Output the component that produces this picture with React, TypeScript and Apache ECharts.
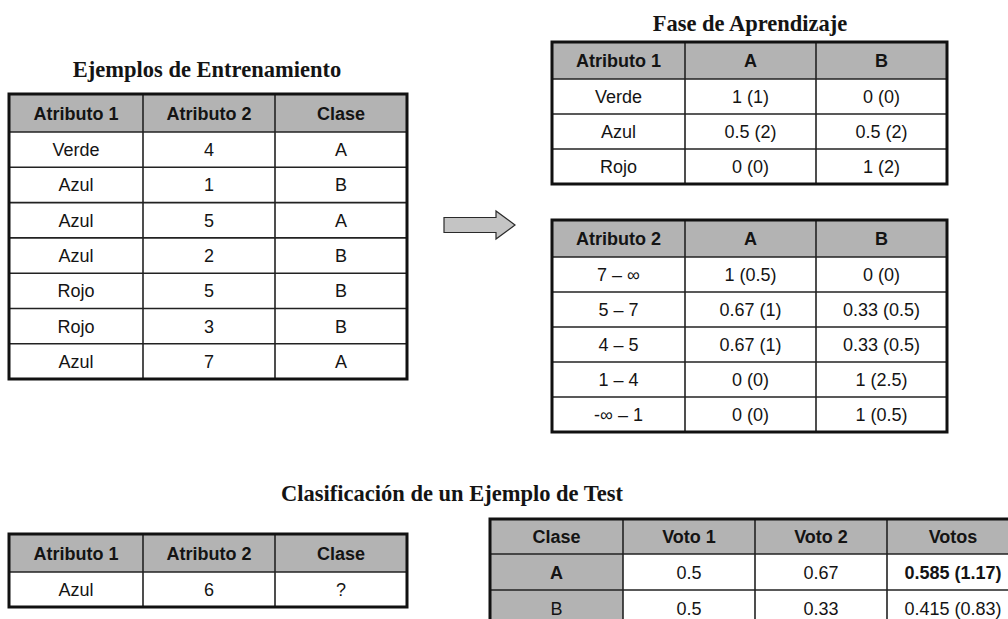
import React, { useEffect, useRef } from "react";
import * as echarts from "echarts";

// ---------- Data ----------
const trainTitle = "Ejemplos de Entrenamiento";
const trainHeader = ["Atributo 1", "Atributo 2", "Clase"];
const trainAttr1 = ["Verde", "Azul", "Azul", "Azul", "Rojo", "Rojo", "Azul"];
const trainAttr2 = ["4", "1", "5", "2", "5", "3", "7"];
const trainClass = ["A", "B", "A", "B", "B", "B", "A"];

const learnTitle = "Fase de Aprendizaje";
const attr1Header = ["Atributo 1", "A", "B"];
const attr1Values = ["Verde", "Azul", "Rojo"];
const attr1ProbA = ["1 (1)", "0.5 (2)", "0 (0)"];
const attr1ProbB = ["0 (0)", "0.5 (2)", "1 (2)"];

const attr2Header = ["Atributo 2", "A", "B"];
const attr2Ranges = ["7 – ∞", "5 – 7", "4 – 5", "1 – 4", "-∞ – 1"];
const attr2ProbA = ["1 (0.5)", "0.67 (1)", "0.67 (1)", "0 (0)", "0 (0)"];
const attr2ProbB = ["0 (0)", "0.33 (0.5)", "0.33 (0.5)", "1 (2.5)", "1 (0.5)"];

const testTitle = "Clasificación de un Ejemplo de Test";
const testHeader = ["Atributo 1", "Atributo 2", "Clase"];
const testRow = ["Azul", "6", "?"];

const voteHeader = ["Clase", "Voto 1", "Voto 2", "Votos"];
const voteClasses = ["A", "B"];
const vote1 = ["0.5", "0.5"];
const vote2 = ["0.67", "0.33"];
const votesTotal = ["0.585 (1.17)", "0.415 (0.83)"];
const winnerIndex = 0;

// ---------- Styles ----------
const GRAY = "#b3b3b3";
const INK = "#141414";
const CELL_FONT = '18px "Liberation Sans", Arial, sans-serif';
const CELL_FONT_BOLD = 'bold 18px "Liberation Sans", Arial, sans-serif';
const TITLE_FONT = 'bold 22.5px "Liberation Serif", "Times New Roman", serif';

function text(str: string, x: number, y: number, font: string, z = 10) {
  return {
    type: "text",
    z,
    silent: true,
    style: {
      text: str,
      x,
      y,
      font,
      fill: INK,
      align: "center",
      verticalAlign: "middle",
      textAlign: "center",
      textVerticalAlign: "middle",
    },
  };
}

interface TableSpec {
  cols: number[];
  top: number;
  headerH: number;
  rowH: number;
  header: string[];
  rows: string[][];
  grayFirstCol?: boolean;
  bold?: (r: number, c: number) => boolean;
}

function buildTable(t: TableSpec): any[] {
  const els: any[] = [];
  const left = t.cols[0];
  const right = t.cols[t.cols.length - 1];
  const hb = t.top + t.headerH;
  const bottom = hb + t.rowH * t.rows.length;
  els.push({ type: "rect", z: 1, shape: { x: left, y: t.top, width: right - left, height: bottom - t.top }, style: { fill: "#ffffff" } });
  els.push({ type: "rect", z: 2, shape: { x: left, y: t.top, width: right - left, height: t.headerH }, style: { fill: GRAY } });
  if (t.grayFirstCol) {
    els.push({ type: "rect", z: 2, shape: { x: left, y: hb, width: t.cols[1] - left, height: bottom - hb }, style: { fill: GRAY } });
  }
  for (let i = 1; i < t.cols.length - 1; i++) {
    els.push({ type: "line", z: 4, shape: { x1: t.cols[i], y1: t.top, x2: t.cols[i], y2: bottom }, style: { stroke: "#222", lineWidth: 1.6 } });
  }
  for (let r = 0; r < t.rows.length; r++) {
    const y = hb + r * t.rowH;
    els.push({ type: "line", z: 4, shape: { x1: left, y1: y, x2: right, y2: y }, style: { stroke: "#222", lineWidth: 1.6 } });
  }
  els.push({ type: "rect", z: 5, shape: { x: left, y: t.top, width: right - left, height: bottom - t.top }, style: { fill: null, stroke: "#111", lineWidth: 3 } });
  t.header.forEach((h, c) => {
    els.push(text(h, (t.cols[c] + t.cols[c + 1]) / 2, t.top + t.headerH / 2 + 0.5, CELL_FONT_BOLD));
  });
  t.rows.forEach((row, r) => {
    row.forEach((cell, c) => {
      const isBold = t.bold ? t.bold(r, c) : false;
      els.push(text(cell, (t.cols[c] + t.cols[c + 1]) / 2, hb + t.rowH * (r + 0.5) + 0.5, isBold ? CELL_FONT_BOLD : CELL_FONT));
    });
  });
  return els;
}

export default function App() {
  const ref = useRef<HTMLDivElement>(null);
  useEffect(() => {
    if (!ref.current) return;
    const chart = echarts.init(ref.current, null, { renderer: "svg" });

    const trainRows = trainAttr1.map((a, i) => [a, trainAttr2[i], trainClass[i]]);
    const a1Rows = attr1Values.map((v, i) => [v, attr1ProbA[i], attr1ProbB[i]]);
    const a2Rows = attr2Ranges.map((v, i) => [v, attr2ProbA[i], attr2ProbB[i]]);
    const voteRows = voteClasses.map((c, i) => [c, vote1[i], vote2[i], votesTotal[i]]);

    const elements: any[] = [
      text(trainTitle, 207, 69.5, TITLE_FONT),
      text(learnTitle, 750, 23.5, TITLE_FONT),
      text(testTitle, 452, 493.5, TITLE_FONT),
      ...buildTable({ cols: [9, 143, 275, 407], top: 94, headerH: 38, rowH: 35.3, header: trainHeader, rows: trainRows }),
      ...buildTable({ cols: [552, 685, 816, 947], top: 42, headerH: 37, rowH: 35, header: attr1Header, rows: a1Rows }),
      ...buildTable({ cols: [552, 685, 816, 947], top: 220, headerH: 37, rowH: 35, header: attr2Header, rows: a2Rows }),
      ...buildTable({ cols: [9, 143, 275, 407], top: 534, headerH: 38, rowH: 35, header: testHeader, rows: [testRow] }),
      ...buildTable({
        cols: [490, 623, 755, 887, 1019],
        top: 519,
        headerH: 35,
        rowH: 36,
        header: voteHeader,
        rows: voteRows,
        grayFirstCol: true,
        bold: (r, c) => (c === 0 && r === winnerIndex) || (c === 3 && r === winnerIndex),
      }),
      {
        type: "polygon",
        z: 5,
        shape: {
          points: [
            [444, 217.5], [496, 217.5], [496, 211], [515, 225], [496, 239], [496, 232.5], [444, 232.5],
          ],
        },
        style: { fill: "#c4c4c4", stroke: "#2a2a2a", lineWidth: 1.2 },
      },
    ];

    chart.setOption({ animation: false, backgroundColor: "#ffffff", graphic: { elements } });
    return () => chart.dispose();
  }, []);
  return (
    <div
      ref={ref}
      style={{ position: "fixed", left: 0, top: 0, width: 1008, height: 619, background: "#fff" }}
    />
  );
}
